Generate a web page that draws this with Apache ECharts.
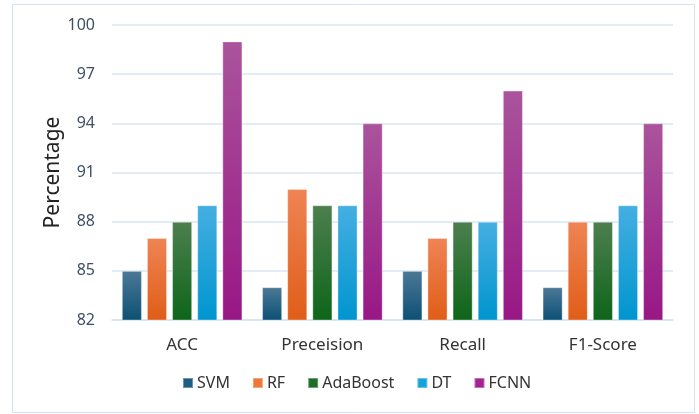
<!DOCTYPE html>
<html>
<head>
<meta charset="utf-8">
<script src="https://cdn.jsdelivr.net/npm/echarts@6/dist/echarts.min.js"></script>
<style>
  html, body { margin: 0; padding: 0; background: #fff; }
  #chart { width: 699px; height: 414px; }
</style>
</head>
<body>
<div id="chart"></div>
<script>
// Metrics on the x axis
const categories = ['ACC', 'Preceision', 'Recall', 'F1-Score'];

// Scores (%) per model
const svm      = [85, 84, 85, 84];
const rf       = [87, 90, 87, 88];
const adaBoost = [88, 89, 88, 88];
const dt       = [89, 89, 88, 89];
const fcnn     = [99, 94, 96, 94];

const yTicks = [82, 85, 88, 91, 94, 97, 100];

const seriesDefs = [
  { name: 'SVM',      data: svm,      top: '#4d7897', bottom: '#0b5074', legend: '#1d5d83' },
  { name: 'RF',       data: rf,       top: '#ef8454', bottom: '#e05d18', legend: '#ee7636' },
  { name: 'AdaBoost', data: adaBoost, top: '#4d7f4f', bottom: '#0d6519', legend: '#1d6e27' },
  { name: 'DT',       data: dt,       top: '#45afe2', bottom: '#0095cf', legend: '#16a3dc' },
  { name: 'FCNN',     data: fcnn,     top: '#aa549c', bottom: '#981786', legend: '#a2248f' }
];

const font = 'Noto Sans';
const chart = echarts.init(document.getElementById('chart'), null, { renderer: 'canvas' });

chart.setOption({
  animation: false,
  backgroundColor: '#ffffff',
  textStyle: { fontFamily: font },
  graphic: [{
    type: 'rect',
    shape: { x: 12.5, y: 4.5, width: 682, height: 408 },
    style: { fill: 'none', stroke: '#d3e3f3', lineWidth: 1 },
    silent: true
  }],
  grid: { left: 112, right: 26, top: 25, bottom: 94, containLabel: false },
  legend: {
    bottom: 18,
    left: 177,
    itemWidth: 10,
    itemHeight: 10,
    itemGap: 22,
    icon: 'rect',
    textStyle: { fontFamily: font, fontSize: 16, color: '#333333', padding: [0, 0, 0, -1] },
    data: seriesDefs.map(s => ({ name: s.name, itemStyle: { color: s.legend } }))
  },
  xAxis: {
    type: 'category',
    data: categories,
    axisLine: { show: true, lineStyle: { color: '#d5e3f2', width: 1.5 } },
    axisTick: { show: false },
    axisLabel: { fontFamily: font, fontSize: 17, color: '#333333', margin: 17 }
  },
  yAxis: {
    type: 'value',
    min: yTicks[0],
    max: yTicks[yTicks.length - 1],
    interval: 3,
    name: 'Percentage',
    nameLocation: 'middle',
    nameGap: 48,
    nameMoveOverlap: false,
    nameTextStyle: { fontFamily: font, fontSize: 21, color: '#222222' },
    axisLine: { show: false },
    axisTick: { show: false },
    axisLabel: { fontFamily: font, fontSize: 16, color: '#3e5067', margin: 17 },
    splitLine: { lineStyle: { color: '#d9e6f5', width: 1.5 } }
  },
  series: seriesDefs.map(s => ({
    name: s.name,
    type: 'bar',
    data: s.data,
    barGap: '25%',
    barCategoryGap: '14%',
    itemStyle: {
      color: new echarts.graphic.LinearGradient(0, 0, 0, 1, [
        { offset: 0, color: s.top },
        { offset: 1, color: s.bottom }
      ]),
      borderColor: 'rgba(255,255,255,0.35)',
      borderWidth: 1
    }
  }))
});
</script>
</body>
</html>
